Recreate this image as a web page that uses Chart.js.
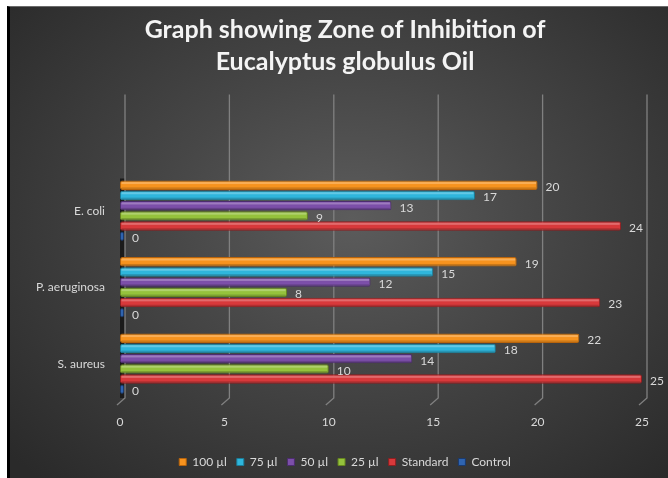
<!DOCTYPE html>
<html>
<head>
<meta charset="utf-8">
<script src="https://cdn.jsdelivr.net/npm/chart.js@4.4.1/dist/chart.umd.min.js"></script>
<style>
  html, body { margin: 0; padding: 0; background: #fff; width: 668px; height: 478px; overflow: hidden; }
  #frame {
    position: absolute; left: 7px; top: 6px; width: 658px; height: 471px;
    border-left: 3px solid #000; border-top: 1px solid #6b6b6b;
    background: radial-gradient(ellipse 70% 75% at 52% 45%, #5c5c5c 0%, #474747 40%, #2a2a2a 100%);
  }
  canvas { display: block; }
</style>
</head>
<body>
<div id="frame"><canvas id="chart" width="658" height="471"></canvas></div>
<script>
// Organisms (top to bottom)
const organisms = ['E. coli', 'P. aeruginosa', 'S. aureus'];

// Zone of inhibition (mm) per treatment
const ul100    = [20, 19, 22];
const ul75     = [17, 15, 18];
const ul50     = [13, 12, 14];
const ul25     = [9, 8, 10];
const standard = [24, 23, 25];
const control  = [0, 0, 0];

const xTicks = [0, 5, 10, 15, 20, 25];
const titleLines = ['Graph showing Zone of Inhibition of', 'Eucalyptus globulus Oil'];

const FONT = 'Lato, "Open Sans", sans-serif';
const TEXT = '#d9d9d9';

function series(label, data, fill, edge, extra) {
  return Object.assign({
    label, data,
    backgroundColor: fill,
    borderColor: edge,
    borderWidth: 1,
    borderRadius: 2,
    borderSkipped: false,
    categoryPercentage: 0.8,
    barPercentage: 0.92
  }, extra || {});
}

// Centre the title and legend over the plot rather than the whole canvas
const centerBlocks = {
  id: 'centerBlocks',
  afterLayout(chart) {
    [chart.titleBlock, chart.legend].forEach(b => {
      if (b) { b.left += 19; b.right += 19; }
    });
  }
};

// Back wall: vertical gridlines with the slanted floor edge, and the dark axis side
const backWall = {
  id: 'backWall',
  beforeDatasetsDraw(chart) {
    const { ctx, chartArea: a, scales: { x } } = chart;
    ctx.save();
    const x0 = x.getPixelForValue(0);
    ctx.fillStyle = '#1b1b1b';
    ctx.fillRect(x0, a.top + 6, 5, a.bottom - a.top - 10);
    ctx.strokeStyle = '#808080';
    ctx.lineWidth = 1.3;
    x.ticks.forEach(t => {
      const px = x.getPixelForValue(t.value);
      ctx.beginPath();
      ctx.moveTo(px + 5, a.top - 78);
      ctx.lineTo(px + 5, a.bottom - 4);
      ctx.lineTo(px - 3, a.bottom + 3);
      ctx.stroke();
    });
    ctx.restore();
  }
};

// Glossy highlight on each bar and value labels at the bar ends
const barDecor = {
  id: 'barDecor',
  afterDatasetsDraw(chart) {
    const { ctx } = chart;
    ctx.save();
    chart.data.datasets.forEach((ds, i) => {
      const meta = chart.getDatasetMeta(i);
      meta.data.forEach((bar, j) => {
        const p = bar.getProps(['x', 'y', 'base', 'height'], true);
        const left = Math.min(p.x, p.base), w = Math.abs(p.x - p.base);
        if (w > 4) {
          ctx.fillStyle = 'rgba(255,255,255,0.25)';
          ctx.fillRect(left + 1.5, p.y - p.height / 2 + 1.5, w - 3, 2);
          ctx.fillStyle = 'rgba(0,0,0,0.18)';
          ctx.fillRect(left + 1.5, p.y + p.height / 2 - 2.5, w - 3, 1.5);
        }
        ctx.fillStyle = TEXT;
        ctx.font = '12px ' + FONT;
        ctx.textAlign = 'left';
        ctx.textBaseline = 'middle';
        ctx.fillText(String(ds.data[j]), Math.max(p.x, p.base) + 8, p.y + 2);
      });
    });
    ctx.restore();
  }
};

new Chart(document.getElementById('chart'), {
  type: 'bar',
  data: {
    labels: organisms,
    datasets: [
      series('100 µl', ul100, '#f7931e', '#b8640c'),
      series('75 µl', ul75, '#2fb6dc', '#1a7d99'),
      series('50 µl', ul50, '#7c4fa9', '#4d2d70'),
      series('25 µl', ul25, '#95c23c', '#66861f'),
      series('Standard', standard, '#d8393b', '#8f1f21'),
      series('Control', control, '#2f64b0', '#1a3a6e', { minBarLength: 4 })
    ]
  },
  options: {
    responsive: false,
    animation: false,
    indexAxis: 'y',
    layout: { padding: { left: 0, right: 26, top: 0, bottom: 0 } },
    scales: {
      x: {
        min: 0, max: 25,
        afterBuildTicks(scale) { scale.ticks = xTicks.map(v => ({ value: v })); },
        grid: { display: false },
        border: { display: false },
        ticks: { color: TEXT, font: { family: FONT, size: 12 }, padding: 5, maxRotation: 0 },
        afterFit(scale) { scale.height = 44; }
      },
      y: {
        grid: { display: false },
        border: { display: false },
        ticks: { color: TEXT, font: { family: FONT, size: 12 }, padding: 7 },
        afterFit(scale) { scale.width = 110; }
      }
    },
    plugins: {
      title: {
        display: true,
        text: titleLines,
        color: '#f4f4f4',
        font: { family: FONT, size: 25, weight: 'bold', lineHeight: 1.28 },
        padding: { top: 7, bottom: 94.5 }
      },
      legend: {
        position: 'bottom',
        labels: {
          color: TEXT,
          font: { family: FONT, size: 12 },
          boxWidth: 7, boxHeight: 7,
          padding: 10
        }
      },
      tooltip: { enabled: false }
    }
  },
  plugins: [centerBlocks, backWall, barDecor]
});
</script>
</body>
</html>
